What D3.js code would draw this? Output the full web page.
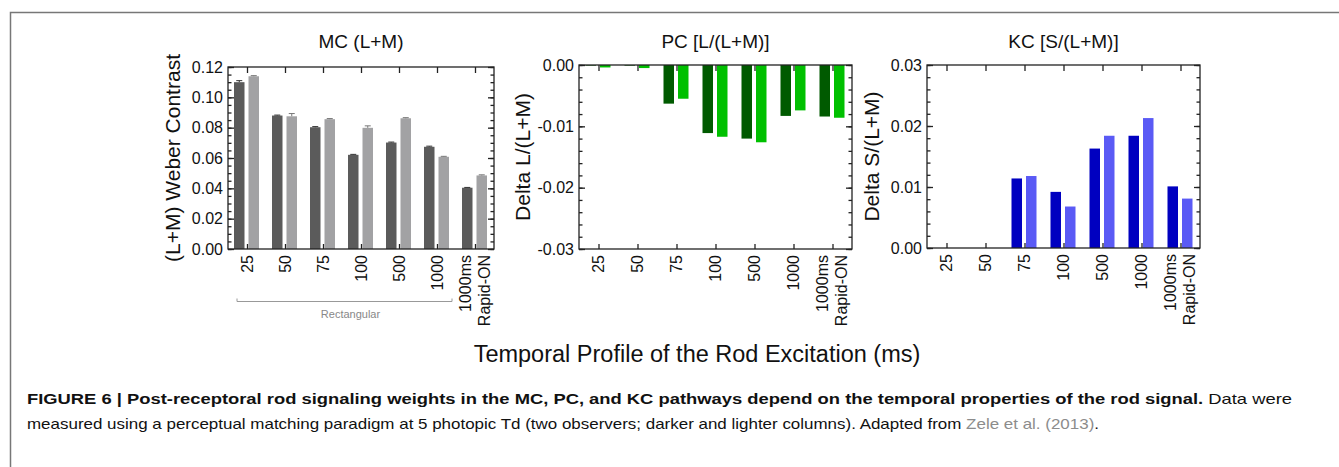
<!DOCTYPE html>
<html>
<head>
<meta charset="utf-8">
<script src="https://cdn.jsdelivr.net/npm/d3@7"></script>
<style>
    body { margin: 0; background: #fff; }
    svg { display: block; font-family: "Liberation Sans", Arial, sans-serif; }
</style>
</head>
<body>
<div id="chart"></div>
<script>

// Data

const categories = ["25", "50", "75", "100", "500", "1000", "1000ms|Rapid-ON"];

const mcDark = [0.110, 0.088, 0.0803, 0.0621, 0.0702, 0.0674, 0.0404];
const mcLight = [0.1139, 0.0875, 0.0856, 0.0799, 0.0862, 0.0608, 0.0485];
const mcDarkErr = [0.0010, 0.0003, 0.0004, 0.0003, 0.0003, 0.0004, 0.0002];
const mcLightErr = [0.0004, 0.0018, 0.0004, 0.0013, 0.0004, 0.0003, 0.0004];

const pcDark = [-0.0001, -0.0001, -0.0063, -0.0111, -0.0120, -0.0083, -0.0084];
const pcLight = [-0.0004, -0.0005, -0.0055, -0.0117, -0.0126, -0.0074, -0.0086];

const kcDark = [0, 0, 0.0114, 0.0092, 0.0163, 0.0184, 0.0101];
const kcLight = [0, 0, 0.0118, 0.0068, 0.0184, 0.0213, 0.0081];

const mcTicks = [0, 0.02, 0.04, 0.06, 0.08, 0.10, 0.12];
const pcTicks = [0, -0.01, -0.02, -0.03];
const kcTicks = [0, 0.01, 0.02, 0.03];

// Layout

const width = 1339;
const height = 467;

const svg = d3.select("#chart").append("svg")
    .attr("width", width)
    .attr("height", height);

// Frame (left and top edges)

svg.append("path")
    .attr("d", "M10.5,467 V12.5 H1339")
    .attr("fill", "none")
    .attr("stroke", "#777")
    .attr("stroke-width", 1.5);

const panels = [
    {
        title: "MC (L+M)", ylabel: "(L+M) Weber Contrast", ylabelX: 173,
        box: { left: 228, right: 494, top: 67, bottom: 249 },
        domain: [0, 0.12], ticks: mcTicks, minor: 0.005, fmt: d3.format(".2f"),
        dark: mcDark, light: mcLight, darkErr: mcDarkErr, lightErr: mcLightErr,
        colors: ["#5b5b5b", "#a2a2a4"], errColors: ["#333", "#777"],
    },
    {
        title: "PC [L/(L+M)]", ylabel: "Delta L/(L+M)", ylabelX: 523,
        box: { left: 579, right: 852, top: 65, bottom: 249 },
        domain: [-0.03, 0], ticks: pcTicks, minor: 0.002, fmt: d => d === 0 ? "0.00" : d3.format(".2f")(d).replace(/0$/, "").replace("−", "-"),
        dark: pcDark, light: pcLight,
        colors: ["#005a00", "#00c000"],
    },
    {
        title: "KC [S/(L+M)]", ylabel: "Delta S/(L+M)", ylabelX: 872,
        box: { left: 927, right: 1200, top: 65, bottom: 248 },
        domain: [0, 0.03], ticks: kcTicks, minor: 0.002, fmt: d3.format(".2f"),
        dark: kcDark, light: kcLight,
        colors: ["#0000c0", "#5a5af5"],
    },
];

panels.forEach(p => {

    const b = p.box;

    const x = d3.scalePoint()
        .domain(categories)
        .range([b.left, b.right])
        .padding(0.5);

    const y = d3.scaleLinear()
        .domain(p.domain)
        .range([b.bottom, b.top]);

    const g = svg.append("g");

    // Bars

    const barBase = y(0);

    const series = [
        { values: p.dark, x0: -13, x1: -2.5, color: p.colors[0] },
        { values: p.light, x0: 1.5, x1: 12, color: p.colors[1] },
    ];

    series.forEach(s => {
        g.append("g").selectAll("rect")
            .data(s.values)
            .join("rect")
            .attr("x", (d, i) => x(categories[i]) + s.x0)
            .attr("width", s.x1 - s.x0)
            .attr("y", d => Math.min(y(d), barBase))
            .attr("height", d => Math.abs(y(d) - barBase))
            .attr("fill", s.color);
    });

    // Error bars

    if (p.darkErr) {
        [[p.dark, p.darkErr, -7.75, p.errColors[0]], [p.light, p.lightErr, 6.75, p.errColors[1]]].forEach(([vals, errs, off, col]) => {
            const eg = g.append("g").attr("stroke", col).attr("stroke-width", 1);
            vals.forEach((v, i) => {
                const cx = x(categories[i]) + off;
                eg.append("line")
                    .attr("x1", cx).attr("x2", cx)
                    .attr("y1", y(v)).attr("y2", y(v + errs[i]));
                eg.append("line")
                    .attr("x1", cx - 3).attr("x2", cx + 3)
                    .attr("y1", y(v + errs[i])).attr("y2", y(v + errs[i]));
            });
        });
    }

    // Frame of the plot

    g.append("rect")
        .attr("x", b.left)
        .attr("y", b.top)
        .attr("width", b.right - b.left)
        .attr("height", b.bottom - b.top)
        .attr("fill", "none")
        .attr("stroke", "#222")
        .attr("stroke-width", 1.3);

    // Minor ticks

    const minorTicks = d3.range(p.domain[0], p.domain[1] + p.minor / 2, p.minor);

    const leftMinor = d3.axisLeft(y).tickValues(minorTicks).tickSize(-3.5).tickFormat("").tickSizeOuter(0);
    const rightMinor = d3.axisRight(y).tickValues(minorTicks).tickSize(-3.5).tickFormat("").tickSizeOuter(0);

    // Major ticks

    const leftAxis = d3.axisLeft(y).tickValues(p.ticks).tickSize(-6).tickPadding(5).tickFormat(p.fmt).tickSizeOuter(0);
    const rightAxis = d3.axisRight(y).tickValues(p.ticks).tickSize(-6).tickFormat("").tickSizeOuter(0);
    const topAxis = d3.axisTop(x).tickSize(-6).tickFormat("").tickSizeOuter(0);
    const bottomAxis = d3.axisBottom(x).tickSize(-5).tickFormat("").tickSizeOuter(0);

    [
        [leftMinor, `translate(${b.left},0)`],
        [rightMinor, `translate(${b.right},0)`],
        [leftAxis, `translate(${b.left},0)`],
        [rightAxis, `translate(${b.right},0)`],
        [topAxis, `translate(0,${b.top})`],
        [bottomAxis, `translate(0,${b.bottom})`],
    ].forEach(([axis, tr]) => {
        const ag = g.append("g").attr("transform", tr).call(axis);
        ag.select(".domain").remove();
        ag.selectAll("line").attr("stroke", "#222").attr("stroke-width", 1.3);
        ag.selectAll("text")
            .attr("font-size", 16)
            .attr("fill", "#111")
            .attr("font-family", "Liberation Sans, Arial, sans-serif");
    });

    // Category labels (rotated)

    categories.forEach(c => {
        const lines = c.split("|");
        lines.forEach((line, k) => {
            const dx = lines.length > 1 ? (k === 0 ? -10 : 9) : 0;
            g.append("text")
                .attr("transform", `translate(${x(c) + dx},${b.bottom + 6}) rotate(-90)`)
                .attr("text-anchor", "end")
                .attr("dy", "0.35em")
                .attr("font-size", 16)
                .attr("fill", "#111")
                .text(line);
        });
    });

    // Titles

    g.append("text")
        .attr("x", (b.left + b.right) / 2)
        .attr("y", 48)
        .attr("text-anchor", "middle")
        .attr("font-size", 19)
        .attr("fill", "#111")
        .text(p.title);

    g.append("text")
        .attr("transform", `translate(${p.ylabelX},${(b.top + b.bottom) / 2}) rotate(-90)`)
        .attr("text-anchor", "middle")
        .attr("dy", "0.35em")
        .attr("font-size", 21)
        .attr("fill", "#111")
        .text(p.ylabel);

    // Rectangular bracket under the first panel

    if (p.title.startsWith("MC")) {
        const x0 = x(categories[0]) - 10;
        const x1 = x(categories[5]) + 15;
        g.append("path")
            .attr("d", `M${x0},298.5 V301.5 H${x1} V298.5`)
            .attr("fill", "none")
            .attr("stroke", "#999")
            .attr("stroke-width", 1);
        g.append("text")
            .attr("x", (x0 + x1) / 2 + 6)
            .attr("y", 318)
            .attr("text-anchor", "middle")
            .attr("font-size", 11)
            .attr("fill", "#888")
            .text("Rectangular");
    }
});

// Shared x-axis title

svg.append("text")
    .attr("x", 697)
    .attr("y", 362)
    .attr("text-anchor", "middle")
    .attr("font-size", 23.5)
    .attr("fill", "#111")
    .text("Temporal Profile of the Rod Excitation (ms)");

// Caption

const caption = svg.append("g")
    .attr("font-family", "'Liberation Sans Narrow', 'Arial Narrow', 'Liberation Sans', sans-serif")
    .attr("font-size", 14.5)
    .attr("fill", "#111");

const line1 = caption.append("text")
    .attr("x", 27)
    .attr("y", 404)
    .attr("textLength", 1265)
    .attr("lengthAdjust", "spacingAndGlyphs");
line1.append("tspan")
    .attr("font-weight", "bold")
    .text("FIGURE 6 | Post-receptoral rod signaling weights in the MC, PC, and KC pathways depend on the temporal properties of the rod signal.");
line1.append("tspan")
    .text(" Data were");

const line2 = caption.append("text")
    .attr("x", 27)
    .attr("y", 429)
    .attr("textLength", 1072)
    .attr("lengthAdjust", "spacingAndGlyphs");
line2.append("tspan")
    .text("measured using a perceptual matching paradigm at 5 photopic Td (two observers; darker and lighter columns). Adapted from ");
line2.append("tspan")
    .attr("fill", "#8c8c8c")
    .text("Zele et al. (2013)");
line2.append("tspan")
    .text(".");

</script>
</body>
</html>
